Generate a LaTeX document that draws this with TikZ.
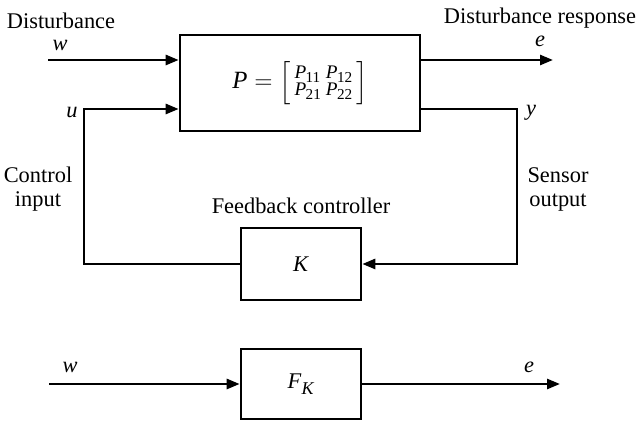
\documentclass[tikz,border=0pt]{standalone}
\usepackage{amsmath}
\usepackage{fontspec}
\setmainfont{Liberation Serif}
\usetikzlibrary{arrows.meta}
\newcommand{\psub}[1]{\textit{P}\kern-0.3pt\raisebox{-1.8pt}{\fontsize{7.6}{8}\selectfont #1}}
\newcommand{\pmatbox}{\vcenter{\hbox{\fontsize{9.6}{9}\selectfont\renewcommand{\arraystretch}{0.78}%
  \begin{tabular}{@{}l@{\hspace{2.5pt}}l@{}}\psub{11} & \psub{12}\\ \psub{21} & \psub{22}\end{tabular}}}}
\begin{document}
\begin{tikzpicture}[x=0.5pt,y=-0.5pt,
  font=\fontsize{11.2}{12}\selectfont,
  blk/.style={draw,line width=1.3pt,inner sep=0pt},
  sig/.style={line width=1.3pt},
  arr/.style={sig,-{Triangle[length=6.5pt,width=5pt]}},
  lbl/.style={inner sep=0pt,anchor=center,align=center}]
\useasboundingbox (0,0) rectangle (638,421);
% blocks
\node[blk,minimum width=120pt,minimum height=48pt] (P) at (300,83)
  {\fontsize{12.4}{14}\selectfont$\textit{P} = \left[\,\pmatbox\,\right]$};
\node[blk,minimum width=60pt,minimum height=36pt] (K) at (301,264) {\textit{K}};
\node[blk,minimum width=60pt,minimum height=35pt] (F) at (301,384)
  {\textit{F}\raisebox{-3pt}{\fontsize{9}{9}\selectfont\textit{K}}};
% coordinates
\coordinate (w0) at (48,60);
\coordinate (e1) at (553,60);
\coordinate (uc) at (84,109);
\coordinate (yc) at (517,109);
\coordinate (bw0) at (49,384);
\coordinate (be1) at (560,384);
% connectors
\draw[arr] (w0) -- (w0 -| P.west);
\draw[arr] (e1 -| P.east) -- (e1);
\draw[arr] (K.west) -| (uc) -- (uc -| P.west);
\draw[arr] (yc -| P.east) -- (yc) |- (K.east);
\draw[arr] (bw0) -- (F.west);
\draw[arr] (F.east) -- (be1);
% labels
\node[lbl] (tdist) at (61,21) {Disturbance};
\node[lbl] (tw) at (60,45) {\textit{w}};
\node[lbl] (tdr) at (540,18) {Disturbance response};
\node[lbl] (te) at (540,41) {\textit{e}};
\node[lbl] (tu) at (72,112) {\textit{u}};
\node[lbl] (ty) at (531,113) {\textit{y}};
\node[lbl] (tci) at (38,189) {Control\\input};
\node[lbl] (tso) at (558,189) {Sensor\\output};
\node[lbl] (tfc) at (301,206) {Feedback controller};
\node[lbl] (tbw) at (70,367) {\textit{w}};
\node[lbl] (tbe) at (529,367) {\textit{e}};
\end{tikzpicture}
\end{document}
